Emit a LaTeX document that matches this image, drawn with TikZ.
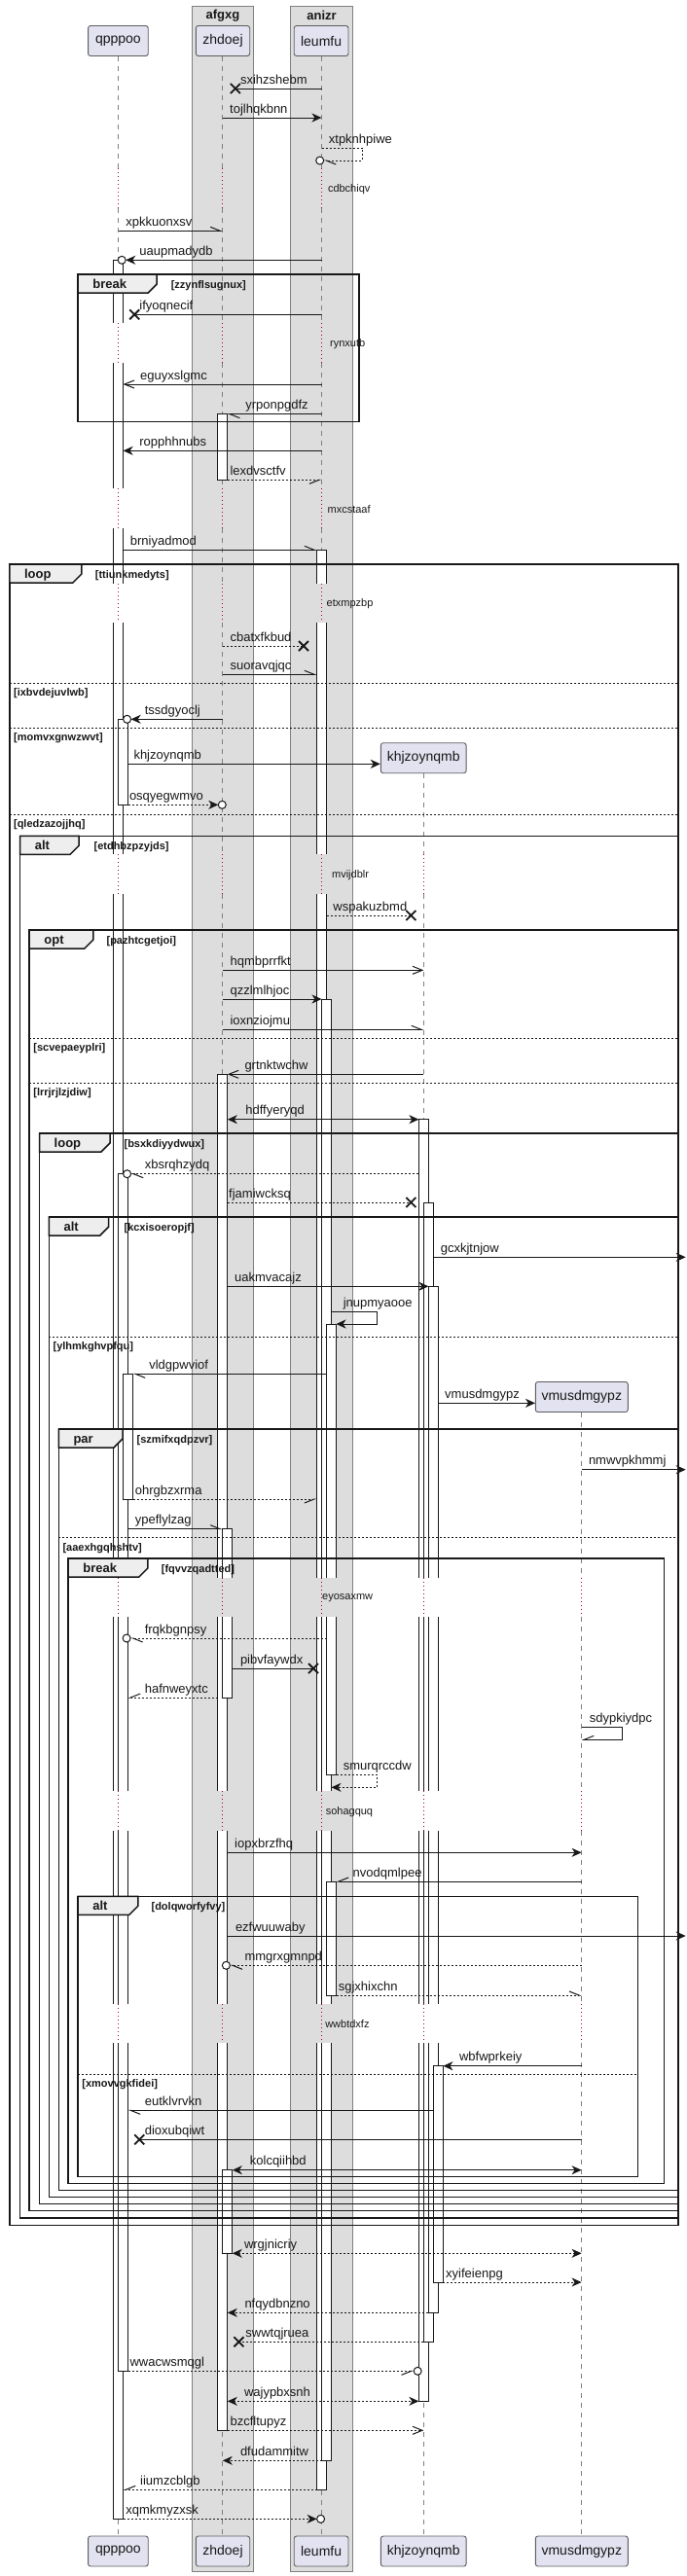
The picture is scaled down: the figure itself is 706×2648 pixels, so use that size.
\documentclass[tikz,border=0pt]{standalone}
\usepackage{fontspec}
\setmainfont{Liberation Sans}
\usetikzlibrary{arrows.meta}
\definecolor{grp}{HTML}{DDDDDD}
\definecolor{partfill}{HTML}{E2E2F0}
\definecolor{tabfill}{HTML}{EEEEEE}
\definecolor{delayred}{HTML}{A80036}
\definecolor{ink}{HTML}{181818}
\newcommand\xQ{121.6}
\newcommand\xZ{228.8}
\newcommand\xL{330.5}
\newcommand\xK{435.4}
\newcommand\xV{597.6}
\newcommand\ml[3]{\node[lab] (m-#3) at (#1,#2-5) {#3};}
\newcommand\xmk[2]{\draw[xm] (#1-5,#2-5) -- (#1+5,#2+5) (#1-5,#2+5) -- (#1+5,#2-5);}
\newcommand\oc[2]{\draw[sol,fill=white] (#1,#2) circle[radius=4pt];}
\newcommand\act[3]{\filldraw[actb] (#1,#2) rectangle (#1+10,#3);}
\newcommand\frm[8]{%
  \draw[frm] (#1,#3) rectangle (#2,#4);
  \filldraw[frm,fill=tabfill] (#1,#3) -- (#5,#3) -- (#5,#3+10) -- (#5-9,#3+19) -- (#1,#3+19) -- cycle;
  \node[kwlab] at (#1+15,#3+14.5) {#6};
  \node[condlab] (c-#7) at (#8,#3+14.5) {[#7]};}
\newcommand\sepl[4]{\draw[seps] (#1,#3) -- (#2,#3); \node[condlab] (c-#4) at (#1+4,#3+13.5) {[#4]};}
\newcommand\dlab[3]{\node[dlb] (d-#3) at (#1,#2) {#3};}
\tikzset{
  sol/.style={draw=ink, line width=1pt},
  dsh/.style={sol, dash pattern=on 2pt off 2pt},
  fh/.style={-{Stealth[length=10pt,width=9pt,inset=3pt]}},
  bh/.style={{Stealth[length=10pt,width=9pt,inset=3pt]}-{Stealth[length=10pt,width=9pt,inset=3pt]}},
  oh/.style={-{Straight Barb[length=10pt,width=8pt]}},
  hl/.style={-{Straight Barb[length=10pt,width=8pt,left]}},
  hr/.style={-{Straight Barb[length=10pt,width=8pt,right]}},
  xm/.style={draw=ink, line width=1.8pt},
  lab/.style={anchor=base west, inner sep=0pt, text=ink, font=\fontsize{13pt}{15pt}\selectfont},
  dlb/.style={anchor=west, inner sep=0pt, text=ink, font=\fontsize{11pt}{13pt}\selectfont},
  kwlab/.style={anchor=base west, inner sep=0pt, text=ink, font=\fontsize{13pt}{15pt}\selectfont\bfseries},
  condlab/.style={anchor=base west, inner sep=0pt, text=ink, font=\fontsize{11pt}{13pt}\selectfont\bfseries},
  frm/.style={draw=ink, line width=1.5pt},
  seps/.style={draw=ink, line width=1pt, dash pattern=on 2pt off 2pt},
  actb/.style={fill=white, draw=ink, line width=0.9pt},
  lifel/.style={draw=ink!55, line width=0.7pt, dash pattern=on 5pt off 5pt},
  dly/.style={draw=delayred, line width=0.9pt, dash pattern=on 1pt off 3pt},
  grpbox/.style={fill=grp, draw=black!50, line width=1pt},
  grptitle/.style={inner sep=0pt, text=ink, font=\fontsize{13pt}{15pt}\selectfont\bfseries},
  part/.style={draw=ink!70, fill=partfill, rounded corners=2.5pt, minimum height=31pt, inner sep=0pt, line width=0.9pt, text=ink, font=\fontsize{14pt}{16pt}\selectfont},
}
\begin{document}
\begin{tikzpicture}[x=1pt,y=-1pt]
\useasboundingbox (0,0) rectangle (706,2648);
\fill[white] (0,0) rectangle (706,2648);
% groups
\filldraw[grpbox] (197.7,6) rectangle (260.3,2643.3);
\filldraw[grpbox] (298.6,6) rectangle (362.5,2643.3);
\node[grptitle] (g1) at (229,16) {afgxg};
\node[grptitle] (g2) at (330.5,16) {anizr};
% lifelines
\foreach \a/\b in {57.5/173.3, 214/331.7, 372.7/501.7, 543.3/600, 640/878.3, 919.3/1621.7, 1661.7/1840.7, 1881.7/2060, 2100/2607}{
  \foreach \x in {\xQ,\xZ,\xL}{\draw[lifel] (\x,\a) -- (\x,\b);}}
\foreach \a/\b in {794.7/878.3, 919.3/1621.7, 1661.7/1840.7, 1881.7/2060, 2100/2607}{\draw[lifel] (\xK,\a) -- (\xK,\b);}
\foreach \a/\b in {1451.5/1621.7, 1661.7/1840.7, 1881.7/2060, 2100/2607}{\draw[lifel] (\xV,\a) -- (\xV,\b);}
% activations
\act{116.6}{267.3}{2589.3}
\act{121.6}{739.3}{827.3}
\act{121.6}{1206.7}{2437.3}
\act{126.6}{1412.3}{1541}
\act{223.8}{425.7}{493.3}
\act{223.8}{1104.3}{2498.3}
\act{228.8}{1571.7}{1745}
\act{228.8}{2230.7}{2316.3}
\act{325.5}{565.3}{2559.3}
\act{330.5}{1027}{2529.3}
\act{335.5}{1361}{1824.3}
\act{335.5}{1934}{2051}
\act{430.4}{1150.7}{2468.3}
\act{435.4}{1236}{2407.3}
\act{440.4}{1322.3}{2377.3}
\act{445.4}{2123.7}{2346}
% delay gaps in activations (background shows through)
\fill[white] (116,331.7) rectangle (127.2,372.7);
\fill[white] (116,501.7) rectangle (127.2,543.3);
\fill[white] (116,600) rectangle (127.2,640);
\fill[grp] (324.9,600) rectangle (336.1,640);
\fill[white] (116,878.3) rectangle (127.2,919.3);
\fill[grp] (324.9,878.3) rectangle (336.1,919.3);
\fill[white] (116,1621.7) rectangle (132.2,1661.7);
\fill[grp] (223.2,1621.7) rectangle (239.4,1661.7);
\fill[grp] (324.9,1621.7) rectangle (346.1,1661.7);
\fill[white] (429.8,1621.7) rectangle (451,1661.7);
\foreach \a/\b in {1840.7/1881.7, 2060/2100}{
  \fill[white] (116,\a) rectangle (132.2,\b);
  \fill[grp] (223.2,\a) rectangle (234.4,\b);
  \fill[grp] (324.9,\a) rectangle (341.1,\b);
  \fill[white] (429.8,\a) rectangle (451,\b);}
% delays
\foreach \a/\b in {173.3/214, 331.7/372.7, 501.7/543.3, 600/640}{
  \foreach \x in {\xQ,\xZ,\xL}{\draw[dly] (\x,\a) -- (\x,\b);}}
\foreach \x in {\xQ,\xZ,\xL,\xK}{\draw[dly] (\x,878.3) -- (\x,919.3);}
\foreach \a/\b in {1621.7/1661.7, 1840.7/1881.7, 2060/2100}{
  \foreach \x in {\xQ,\xZ,\xL,\xK,\xV}{\draw[dly] (\x,\a) -- (\x,\b);}}
\dlab{336.8}{194.3}{cdbchiqv}
\dlab{339}{353.3}{rynxutb}
\dlab{336.4}{523.3}{mxcstaaf}
\dlab{335.5}{620.7}{etxmpzbp}
\dlab{340.9}{899.3}{mvijdblr}
\dlab{331}{1642.7}{eyosaxmw}
\dlab{334.6}{1862.7}{sohagquq}
\dlab{334.1}{2081}{wwbtdxfz}
% participants
\node[part,minimum width=61.7pt] (qpT) at (121.4,42) {qpppoo};
\node[part,minimum width=55.4pt] (zhT) at (229,42) {zhdoej};
\node[part,minimum width=55.8pt] (leT) at (330.1,42) {leumfu};
\node[part,minimum width=87.8pt] (khT) at (435.2,779.2) {khjzoynqmb};
\node[part,minimum width=95pt] (vmT) at (597.8,1436) {vmusdmgypz};
\node[part,minimum width=61.7pt] (qpB) at (121.4,2622.5) {qpppoo};
\node[part,minimum width=55.4pt] (zhB) at (229,2622.5) {zhdoej};
\node[part,minimum width=55.8pt] (leB) at (330.1,2622.5) {leumfu};
\node[part,minimum width=87.8pt] (khB) at (435.2,2622.5) {khjzoynqmb};
\node[part,minimum width=95pt] (vmB) at (597.8,2622.5) {vmusdmgypz};
% frames
\frm{80.2}{368.8}{282}{433.3}{161.2}{break}{zzynflsugnux}{175.6}
\frm{9.9}{697}{580}{2287.3}{83.8}{loop}{ttiunkmedyts}{97.7}
\sepl{9.9}{697}{702.3}{ixbvdejuvlwb}
\sepl{9.9}{697}{748.3}{momvxgnwzwvt}
\sepl{9.9}{697}{837.3}{qledzazojjhq}
\frm{20.7}{697}{859.3}{2280}{81}{alt}{etdhbzpzyjds}{96.4}
\frm{30.2}{697}{956}{2272.7}{95.9}{opt}{pazhtcgetjoi}{109.4}
\sepl{30.2}{697}{1067.3}{scvepaeyplri}
\sepl{30.2}{697}{1113.3}{lrrjrjlzjdiw}
\frm{40.5}{697}{1165}{2265.7}{113}{loop}{bsxkdiyydwux}{127.4}
\frm{50.4}{697}{1251}{2258.7}{111.7}{alt}{kcxisoeropjf}{127.4}
\sepl{50.4}{697}{1374.3}{ylhmkghvpfqu}
\frm{60.3}{697}{1469}{2251.7}{126}{par}{szmifxqdpzvr}{140.5}
\sepl{60.3}{697}{1580.7}{aaexhgqhshtv}
\frm{70.2}{682.7}{1602}{2244.7}{151.8}{break}{fqvvzqadtted}{165.7}
\frm{80.2}{655.6}{1949.3}{2237.7}{141.8}{alt}{dolqworfyfvy}{155.4}
\sepl{80.2}{655.6}{2132.3}{xmovvgkfidei}
% messages
\draw[sol] (\xL,91) -- (241.8,91); \xmk{241.8}{91} \ml{246.8}{91}{sxihzshebm}
\draw[sol,fh] (\xZ,121) -- (\xL,121); \ml{236}{121}{tojlhqkbnn}
\draw[dsh,hl] (\xL,152.3) -- (372.4,152.3) -- (372.4,165) -- (332.7,165); \oc{328.7}{165}
\node[lab] (m-xtpknhpiwe) at (337.7,147.3) {xtpknhpiwe};
\draw[sol,hl] (\xQ,237.3) -- (\xZ,237.3); \ml{129.2}{237.3}{xpkkuonxsv}
\draw[sol,fh] (\xL,267.3) -- (129.2,267.3); \oc{125.2}{267.3} \ml{143.2}{267.3}{uaupmadydb}
\draw[sol] (\xL,323.3) -- (138.2,323.3); \xmk{138.2}{323.3} \ml{143.2}{323.3}{ifyoqnecif}
\draw[sol,oh] (\xL,395) -- (126.6,395); \ml{144}{395}{eguyxslgmc}
\draw[sol,hl] (\xL,425.7) -- (233.8,425.7); \ml{252.2}{425.7}{yrponpgdfz}
\draw[sol,fh] (\xL,463.3) -- (126.6,463.3); \ml{143.2}{463.3}{ropphhnubs}
\draw[dsh,hr] (233.8,493.3) -- (\xL,493.3); \ml{236.4}{493.3}{lexdvsctfv}
\draw[sol,hl] (126.6,565.3) -- (325.5,565.3); \ml{133.7}{565.3}{brniyadmod}
\draw[dsh] (\xZ,664) -- (312,664); \xmk{312}{664} \ml{236.4}{664}{cbatxfkbud}
\draw[sol,hl] (\xZ,693.3) -- (325.5,693.3); \ml{236.4}{693.3}{suoravqjqc}
\draw[sol,fh] (\xZ,739.3) -- (134.6,739.3); \oc{130.6}{739.3} \ml{148.6}{739.3}{tssdgyoclj}
\draw[sol,fh] (131.6,785.3) -- (390.8,785.3); \ml{137.3}{785.3}{khjzoynqmb}
\draw[dsh,fh] (131.6,827.3) -- (224.3,827.3); \oc{228.3}{827.3} \ml{132.8}{827.3}{osqyegwmvo}
\draw[dsh] (335.5,941) -- (422.4,941); \xmk{422.4}{941} \ml{342.2}{941}{wspakuzbmd}
\draw[sol,oh] (\xZ,997.3) -- (\xK,997.3); \ml{236.4}{997.3}{hqmbprrfkt}
\draw[sol,fh] (\xZ,1027) -- (330.5,1027); \ml{236.4}{1027}{qzzlmlhjoc}
\draw[sol,hl] (\xZ,1058.3) -- (\xK,1058.3); \ml{236.4}{1058.3}{ioxnziojmu}
\draw[sol,oh] (\xK,1104.3) -- (233.8,1104.3); \ml{251.3}{1104.3}{grtnktwchw}
\draw[sol,bh] (233.8,1150.7) -- (430.4,1150.7); \ml{252.2}{1150.7}{hdffyeryqd}
\draw[dsh,hl] (430.4,1206.7) -- (134.6,1206.7); \oc{130.6}{1206.7} \ml{148.6}{1206.7}{xbsrqhzydq}
\draw[dsh] (233.8,1236) -- (422.4,1236); \xmk{422.4}{1236} \ml{235}{1236}{fjamiwcksq}
\draw[sol,fh] (445.4,1292.3) -- (704.7,1292.3); \ml{452.6}{1292.3}{gcxkjtnjow}
\draw[sol,fh] (233.8,1322.3) -- (440.4,1322.3); \ml{241}{1322.3}{uakmvacajz}
\draw[sol,fh] (340.5,1348.3) -- (387.3,1348.3) -- (387.3,1361) -- (345.5,1361);
\node[lab] (m-jnupmyaooe) at (352.6,1343.3) {jnupmyaooe};
\draw[sol,hl] (335.5,1412.3) -- (136.6,1412.3); \ml{153.1}{1412.3}{vldgpwviof}
\draw[sol,fh] (450.4,1442.3) -- (550,1442.3); \ml{457}{1442.3}{vmusdmgypz}
\draw[sol,fh] (\xV,1510.7) -- (704.7,1510.7); \ml{604.8}{1510.7}{nmwvpkhmmj}
\draw[dsh,hr] (136.6,1541) -- (325.5,1541); \ml{138.7}{1541}{ohrgbzxrma}
\draw[sol,hl] (131.6,1571.7) -- (228.8,1571.7); \ml{138.7}{1571.7}{ypeflylzag}
\draw[dsh,hl] (335.5,1684) -- (134.1,1684); \oc{130.1}{1684} \ml{148.6}{1684}{frqkbgnpsy}
\draw[sol] (238.8,1715) -- (322,1715); \xmk{322}{1715} \ml{246.8}{1715}{pibvfaywdx}
\draw[dsh,hr] (223.8,1745) -- (131.6,1745); \ml{148.6}{1745}{hafnweyxtc}
\draw[sol,hr] (\xV,1775) -- (639.4,1775) -- (639.4,1788.3) -- (\xV,1788.3);
\node[lab] (m-sdypkiydpc) at (605.7,1770) {sdypkiydpc};
\draw[dsh,fh] (345.5,1824.3) -- (387.3,1824.3) -- (387.3,1837.3) -- (340.5,1837.3);
\node[lab] (m-smurqrccdw) at (352.6,1819.3) {smurqrccdw};
\draw[sol,fh] (233.8,1904.3) -- (\xV,1904.3); \ml{241}{1904.3}{iopxbrzfhq}
\draw[sol,hr] (\xV,1934) -- (345.5,1934); \ml{362.5}{1934}{nvodqmlpee}
\draw[sol,fh] (233.8,1990) -- (704.7,1990); \ml{241.8}{1990}{ezfwuuwaby}
\draw[dsh,hl] (\xV,2020.3) -- (236.4,2020.3); \oc{232.4}{2020.3} \ml{251.3}{2020.3}{mmgrxgmnpd}
\draw[dsh,hl] (345.5,2051) -- (\xV,2051); \ml{347.6}{2051}{sgjxhixchn}
\draw[sol,fh] (\xV,2123.7) -- (455.4,2123.7); \ml{471.9}{2123.7}{wbfwprkeiy}
\draw[sol,hl] (445.4,2169.3) -- (131.6,2169.3); \ml{148.6}{2169.3}{eutklvrvkn}
\draw[sol] (\xV,2199.3) -- (143.2,2199.3); \xmk{143.2}{2199.3} \ml{148.6}{2199.3}{dioxubqiwt}
\draw[sol,bh] (238.8,2230.7) -- (\xV,2230.7); \ml{256.7}{2230.7}{kolcqiihbd}
\draw[dsh,bh] (238.8,2316.3) -- (\xV,2316.3); \ml{250.8}{2316.3}{wrgjnicriy}
\draw[dsh,fh] (455.4,2346) -- (\xV,2346); \ml{458}{2346}{xyifeienpg}
\draw[dsh,fh] (440.4,2377.3) -- (233.8,2377.3); \ml{251.3}{2377.3}{nfqydbnzno}
\draw[dsh] (435.4,2407.3) -- (245.4,2407.3); \xmk{245.4}{2407.3} \ml{252.2}{2407.3}{swwtqjruea}
\draw[dsh,hr] (131.6,2437.3) -- (425.2,2437.3); \oc{429.2}{2437.3} \ml{133.3}{2437.3}{wwacwsmqgl}
\draw[dsh,bh] (233.8,2468.3) -- (430.4,2468.3); \ml{250.8}{2468.3}{wajypbxsnh}
\draw[dsh,oh] (233.8,2498.3) -- (\xK,2498.3); \ml{236.4}{2498.3}{bzcfltupyz}
\draw[dsh,fh] (330.5,2529.3) -- (\xZ,2529.3); \ml{246.8}{2529.3}{dfudammitw}
\draw[dsh,hr] (325.5,2559.3) -- (126.6,2559.3); \ml{144}{2559.3}{iiumzcblgb}
\draw[dsh,fh] (126.6,2589.3) -- (325.6,2589.3); \oc{329.6}{2589.3} \ml{129.2}{2589.3}{xqmkmyzxsk}
\end{tikzpicture}
\end{document}
